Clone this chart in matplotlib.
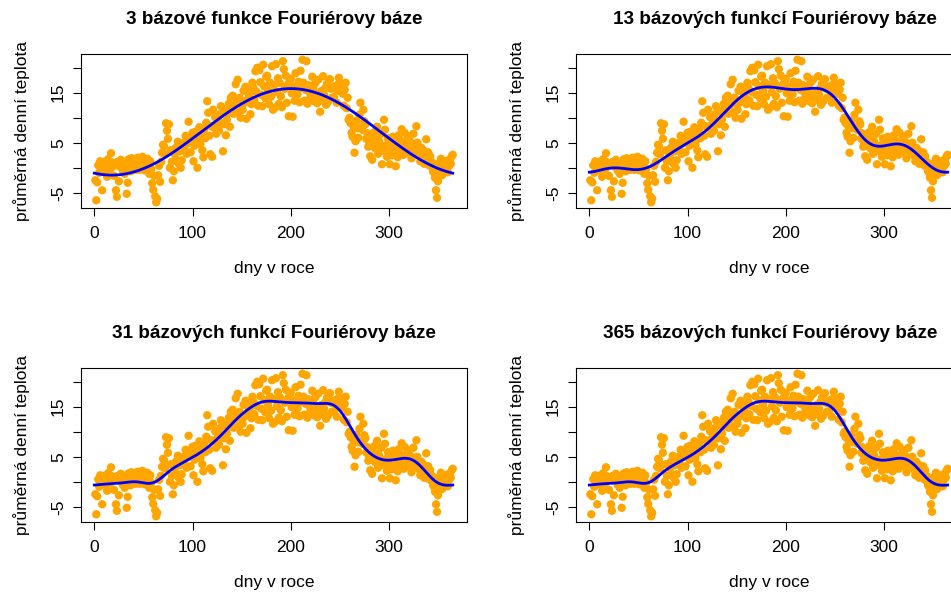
import numpy as np
import matplotlib
matplotlib.use('Agg')
import matplotlib.pyplot as plt

plt.rcParams['font.family'] = ['Liberation Sans', 'DejaVu Sans']

# mean daily temperature for each day of the year
days = np.arange(1, 366)
temp = np.array([
    -2.5, -6.5, -2.9, 0.5, -1.0, 1.3, 0.6, -4.5, -0.2, 1.2,
    -0.5, 0.9, -1.8, 1.7, 0.4, -0.3, 2.9, 1.1, 0.3, -1.6,
    0.6, -4.5, -5.8, 1.2, -2.7, 0.2, 1.6, 0.8, -0.6, 1.0,
    -1.2, 0.3, -5.2, -3.0, 1.7, 0.5, -0.7, 1.9, 0.6, 1.3,
    0.2, -0.4, 1.4, 2.0, 0.9, -0.4, 1.6, 0.3, 2.2, 1.0,
    -0.5, 1.1, 0.4, 1.8, 0.7, -1.2, 1.3, -0.2, -3.1, -4.4,
    -1.6, -5.7, -6.9, -6.2, -1.5, 0.4, -2.8, 1.2, 3.0, 4.6,
    4.3, 2.7, 8.9, 7.4, 5.8, 8.7, 0.0, 3.5, 1.2, -2.5,
    -0.7, 2.7, 4.0, 1.5, 5.2, 0.8, 3.3, 0.0, 1.5, 4.0,
    5.0, 3.6, 6.4, 2.8, 4.9, 9.2, 6.0, 3.1, 5.5, 7.0,
    1.3, 4.4, 7.2, 5.6, 0.0, 6.0, 8.1, 4.7, 6.6, 3.5,
    2.1, 7.7, 5.9, 9.0, 13.3, 11.0, 6.4, 2.7, 8.3, 2.2,
    11.6, 8.0, 10.1, 6.8, 8.7, 9.9, 7.4, 10.7, 12.3, 8.9,
    3.3, 8.7, 11.4, 6.5, 9.6, 10.9, 12.8, 8.2, 14.0, 12.0,
    14.4, 10.8, 12.5, 16.7, 13.2, 17.6, 11.1, 14.0, 10.0, 12.6,
    11.6, 15.4, 13.0, 16.2, 9.8, 13.6, 15.0, 14.5, 10.7, 12.7,
    17.0, 16.0, 13.5, 19.3, 15.2, 20.0, 12.4, 19.5, 17.1, 14.6,
    12.3, 20.6, 16.3, 13.9, 18.2, 18.4, 15.4, 12.7, 17.0, 14.2,
    20.3, 11.6, 16.5, 12.0, 20.7, 15.1, 17.9, 12.8, 16.9, 14.3,
    12.1, 21.3, 19.7, 15.8, 18.4, 13.0, 16.6, 10.3, 17.4, 17.8,
    14.9, 10.2, 16.2, 13.4, 18.9, 15.6, 14.7, 17.2, 13.1, 19.4,
    16.0, 21.6, 17.0, 13.4, 15.6, 21.3, 12.8, 16.5, 15.1, 14.0,
    15.0, 18.2, 15.8, 13.3, 16.9, 14.5, 12.9, 17.6, 14.4, 11.2,
    15.3, 13.5, 18.3, 14.6, 15.9, 12.6, 16.8, 13.2, 17.6, 17.7,
    15.8, 14.0, 16.1, 14.1, 16.3, 15.6, 13.0, 16.6, 18.0, 15.3,
    16.7, 16.7, 14.8, 12.4, 15.6, 17.0, 11.9, 14.0, 9.6, 10.0,
    8.9, 7.0, 6.2, 8.3, 3.0, 5.3, 9.4, 7.9, 6.0, 10.6,
    13.0, 8.1, 7.6, 11.6, 9.3, 8.7, 5.8, 6.9, 4.2, 5.0,
    2.3, 6.4, 1.6, 4.8, 7.1, 3.9, 5.6, 8.2, 2.8, 5.3,
    4.1, 6.8, 0.7, 3.4, 9.6, 7.6, 4.5, 2.2, 5.9, 3.7,
    0.7, 4.9, 2.5, 6.2, 3.0, 5.2, 0.3, 4.0, 2.1, 6.5,
    3.6, 5.4, 7.7, 4.7, 2.6, 7.0, 4.2, 3.1, 5.8, 5.4,
    6.3, 3.5, 1.9, 4.9, 6.8, 2.9, 4.4, 8.3, 5.0, 3.8,
    2.4, 1.3, 4.0, 2.2, 3.5, 0.8, 2.9, 5.7, 1.7, 3.1,
    0.5, 2.3, 0.3, 1.1, -0.7, -1.0, -2.0, -4.5, -6.0, -2.7,
    0.9, -0.4, 1.8, -1.5, -1.2, 0.2, -0.6, 0.5, 1.4, -0.9,
    0.3, 1.6, 0.8, 2.3, 2.6,
])

nbasis_list = [3, 13, 31, 365]
titles = ['3 bázové funkce Fouriérovy báze',
          '13 bázových funkcí Fouriérovy báze',
          '31 bázových funkcí Fouriérovy báze',
          '365 bázových funkcí Fouriérovy báze']
yticks = [-5, 0, 5, 10, 15, 20]
ytick_labels = ['-5', '', '5', '', '15', '']
xticks = [0, 100, 200, 300]

PERIOD = 365.0
LAMBDA = 2e5


def fourier_matrix(t, nbasis):
    w = 2 * np.pi / PERIOD
    cols = [np.ones_like(t, dtype=float)]
    for k in range(1, (nbasis - 1) // 2 + 1):
        cols += [np.sin(k * w * t), np.cos(k * w * t)]
    return np.column_stack(cols)


def harmonic_penalty(nbasis):
    # integral of (w^2 x' + x''')^2 over one period, per basis function
    w = 2 * np.pi / PERIOD
    pen = [0.0]
    for k in range(1, (nbasis - 1) // 2 + 1):
        wk = k * w
        p = (wk * (w ** 2 - wk ** 2)) ** 2 * PERIOD / 2
        pen += [p, p]
    return np.diag(pen)


def smooth(nbasis, tgrid):
    B = fourier_matrix(days.astype(float), nbasis)
    R = harmonic_penalty(nbasis)
    c = np.linalg.solve(B.T @ B + LAMBDA * R, B.T @ temp)
    return fourier_matrix(tgrid, nbasis) @ c


W, H = 951, 596
fig = plt.figure(figsize=(W / 100, H / 100), dpi=100)

col_x = [81, 576]
row_y = [54, 368]
box_w, box_h = 386, 154

tgrid = np.linspace(0, 365, 800)
xr = days.max() - days.min()
yr = temp.max() - temp.min()

for i, nb in enumerate(nbasis_list):
    r, c = divmod(i, 2)
    x0, y0 = col_x[c], row_y[r]
    ax = fig.add_axes([x0 / W, 1 - (y0 + box_h) / H, box_w / W, box_h / H])
    ax.scatter(days, temp, s=36, color='#FFA500', edgecolors='none', zorder=2)
    ax.plot(tgrid, smooth(nb, tgrid), color='#0000FF', lw=2.0, zorder=3)
    ax.set_xlim(days.min() - 0.04 * xr, days.max() + 0.04 * xr)
    ax.set_ylim(temp.min() - 0.04 * yr, temp.max() + 0.04 * yr)
    ax.set_xticks(xticks)
    ax.set_yticks(yticks)
    ax.set_yticklabels(ytick_labels, rotation=90, va='center')
    ax.tick_params(direction='out', length=5.8, width=0.8, labelsize=12.5, colors='black')
    ax.tick_params(axis='x', pad=7)
    ax.tick_params(axis='y', pad=5)
    for s in ax.spines.values():
        s.set_linewidth(0.8)
        s.set_color('black')

    cx = x0 + box_w / 2
    if c == 0:
        fig.text(cx / W, 1 - (y0 - 34) / H, titles[i], ha='center', va='center',
                 fontsize=13.6, fontweight='bold')
    else:
        fig.text(937 / W, 1 - (y0 - 34) / H, titles[i], ha='right', va='center',
                 fontsize=13.6, fontweight='bold')
    fig.text(cx / W, 1 - (y0 + 214) / H, 'dny v roce', ha='center', va='center', fontsize=12.5)
    fig.text((x0 - 59) / W, 1 - (y0 + box_h / 2) / H, 'průměrná denní teplota',
             rotation=90, ha='center', va='center', fontsize=12.5)

fig.savefig('out.png', dpi=100)
